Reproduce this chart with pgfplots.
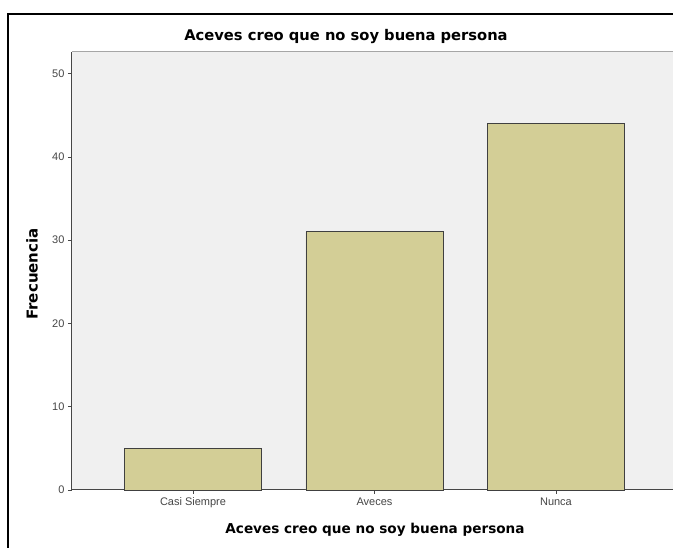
\documentclass[border=0pt]{standalone}
\usepackage{fontspec}
\setmainfont{DejaVu Sans}
\newfontfamily\tickfont{Liberation Sans}
\usepackage{pgfplots}
\pgfplotsset{compat=1.18}
\definecolor{bggray}{RGB}{240,240,240}
\definecolor{barfill}{RGB}{211,206,150}
\definecolor{axgray}{RGB}{70,70,70}
\begin{document}
\begin{tikzpicture}[x=1pt,y=1pt]
\useasboundingbox (0,0) rectangle (673,548);
\clip (0,0) rectangle (673,548);
\fill[white] (0,0) rectangle (673,548);
\draw[line width=1.6pt] (8,-20) -- (8,534) -- (720,534);
\begin{axis}[at={(72pt,58pt)}, anchor=south west, width=605pt, height=438pt, scale only axis,
 xmin=0.333, xmax=3.667, ymin=0, ymax=52.6,
 axis background/.style={fill=bggray},
 axis x line*=bottom, axis y line*=left, axis line style={axgray, line width=1pt, -},
 ytick={0,10,20,30,40,50}, xtick={1,2,3}, xticklabels={Casi Siempre, Aveces, Nunca},
 tick align=outside, major tick length=4pt, tick style={axgray, line width=0.8pt},
 ticklabel style={font=\tickfont\fontsize{11}{12}\selectfont, text=axgray},
 /pgf/number format/assume math mode=true,
 ybar, bar width=0.755, bar shift=0pt,
 clip=false]
\draw[gray!70, line width=1pt] (rel axis cs:0,1) -- (rel axis cs:1.1,1);
\addplot[fill=barfill, draw=black!75, line width=0.8pt] coordinates {(1,5) (2,31) (3,44)};
\end{axis}
\node[font=\bfseries\fontsize{14.7}{17}\selectfont] at (346,511) {Aceves creo que no soy buena persona};
\node[font=\bfseries\fontsize{13.6}{16}\selectfont] at (375,18) {Aceves creo que no soy buena persona};
\node[font=\bfseries\fontsize{15}{17}\selectfont, rotate=90] at (32,274) {Frecuencia};
\end{tikzpicture}
\end{document}
